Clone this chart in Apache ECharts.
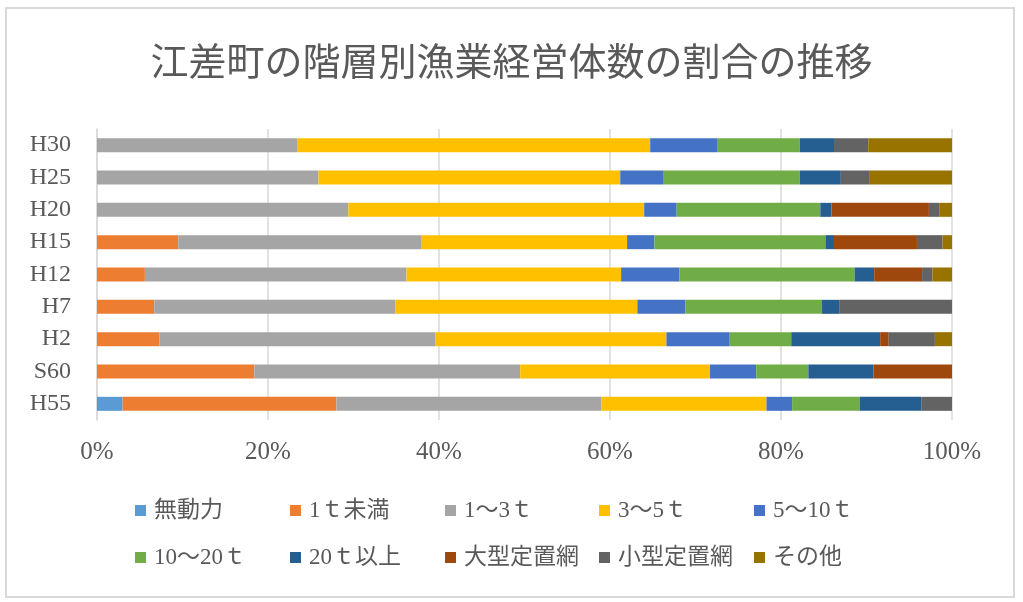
<!DOCTYPE html>
<html>
<head>
<meta charset="utf-8">
<script src="https://cdn.jsdelivr.net/npm/echarts@6/dist/echarts.min.js"></script>
<style>
html,body{margin:0;padding:0;background:#fff;}
#chart{width:1023px;height:602px;}
</style>
</head>
<body>
<div id="chart"></div>
<script>
const titleText = '江差町の階層別漁業経営体数の割合の推移';
const categories = ['H55','S60','H2','H7','H12','H15','H20','H25','H30'];
const seriesNames = ['無動力','1ｔ未満','1～3ｔ','3～5ｔ','5～10ｔ','10～20ｔ','20ｔ以上','大型定置網','小型定置網','その他'];
const muDouryoku   = [3.0, 0, 0, 0, 0, 0, 0, 0, 0];
const under1t      = [25.0, 18.4, 7.3, 6.7, 5.6, 9.5, 0, 0, 0];
const t1to3        = [31.0, 31.1, 32.3, 28.2, 30.6, 28.4, 29.4, 25.9, 23.4];
const t3to5        = [19.3, 22.2, 27.0, 28.3, 25.1, 24.1, 34.6, 35.3, 41.3];
const t5to10       = [3.0, 5.4, 7.4, 5.6, 6.8, 3.2, 3.8, 5.0, 7.9];
const t10to20      = [7.9, 6.1, 7.2, 16.0, 20.5, 20.0, 16.8, 16.0, 9.6];
const over20t      = [7.2, 7.6, 10.4, 2.0, 2.3, 1.0, 1.3, 4.8, 4.0];
const largeNet     = [0, 9.2, 1.0, 0, 5.6, 9.7, 11.4, 0, 0];
const smallNet     = [3.6, 0, 5.4, 13.2, 1.2, 3.0, 1.2, 3.3, 4.0];
const others       = [0, 0, 2.0, 0, 2.3, 1.1, 1.5, 9.7, 9.8];
const xTicks = [0, 20, 40, 60, 80, 100];

const seriesData = [muDouryoku, under1t, t1to3, t3to5, t5to10, t10to20, over20t, largeNet, smallNet, others];
const colors = ['#5B9BD5','#ED7D31','#A5A5A5','#FFC000','#4472C4','#70AD47','#255E91','#9E480E','#636363','#997300'];

const FONT = "'Liberation Serif','Noto Sans CJK JP',serif";
const TXT = '#595959';

const legendCols = [135, 290, 445, 599, 754];
const legendRows = [499, 546];
const legends = seriesNames.map((n, i) => ({
  data: [n],
  left: legendCols[i % 5],
  top: legendRows[Math.floor(i / 5)],
  icon: 'rect',
  itemWidth: 11,
  itemHeight: 11,
  itemGap: 0,
  padding: 0,
  selectedMode: false,
  textStyle: { fontFamily: FONT, fontSize: 23, color: TXT, padding: [0, 0, 0, 3] }
}));

const chart = echarts.init(document.getElementById('chart'), null, { renderer: 'canvas' });
chart.setOption({
  animation: false,
  color: colors,
  title: {
    text: titleText,
    left: 'center',
    top: 37,
    textStyle: { fontFamily: "'Noto Sans CJK JP',sans-serif", fontSize: 38, fontWeight: 'normal', color: TXT }
  },
  graphic: [{
    type: 'rect',
    shape: { x: 6, y: 8, width: 1008, height: 589 },
    style: { fill: 'none', stroke: '#D9D9D9', lineWidth: 2 },
    silent: true
  }],
  legend: legends,
  grid: { left: 97, right: 71, top: 129, bottom: 182, containLabel: false },
  xAxis: {
    type: 'value',
    min: xTicks[0],
    max: xTicks[xTicks.length - 1],
    interval: 20,
    axisLine: { show: false },
    axisTick: { show: false },
    splitLine: { lineStyle: { color: '#D9D9D9', width: 1.5 } },
    axisLabel: { formatter: '{value}%', fontFamily: FONT, fontSize: 25, color: TXT, margin: 20 }
  },
  yAxis: {
    type: 'category',
    data: categories,
    axisLine: { show: true, lineStyle: { color: '#D9D9D9', width: 1.5 } },
    axisTick: { show: false },
    axisLabel: { interval: 0, fontFamily: FONT, fontSize: 24, color: TXT, margin: 26 }
  },
  series: seriesNames.map((n, i) => ({
    name: n,
    type: 'bar',
    stack: 'total',
    barWidth: 14,
    data: seriesData[i],
    itemStyle: { color: colors[i] }
  }))
});
</script>
</body>
</html>
